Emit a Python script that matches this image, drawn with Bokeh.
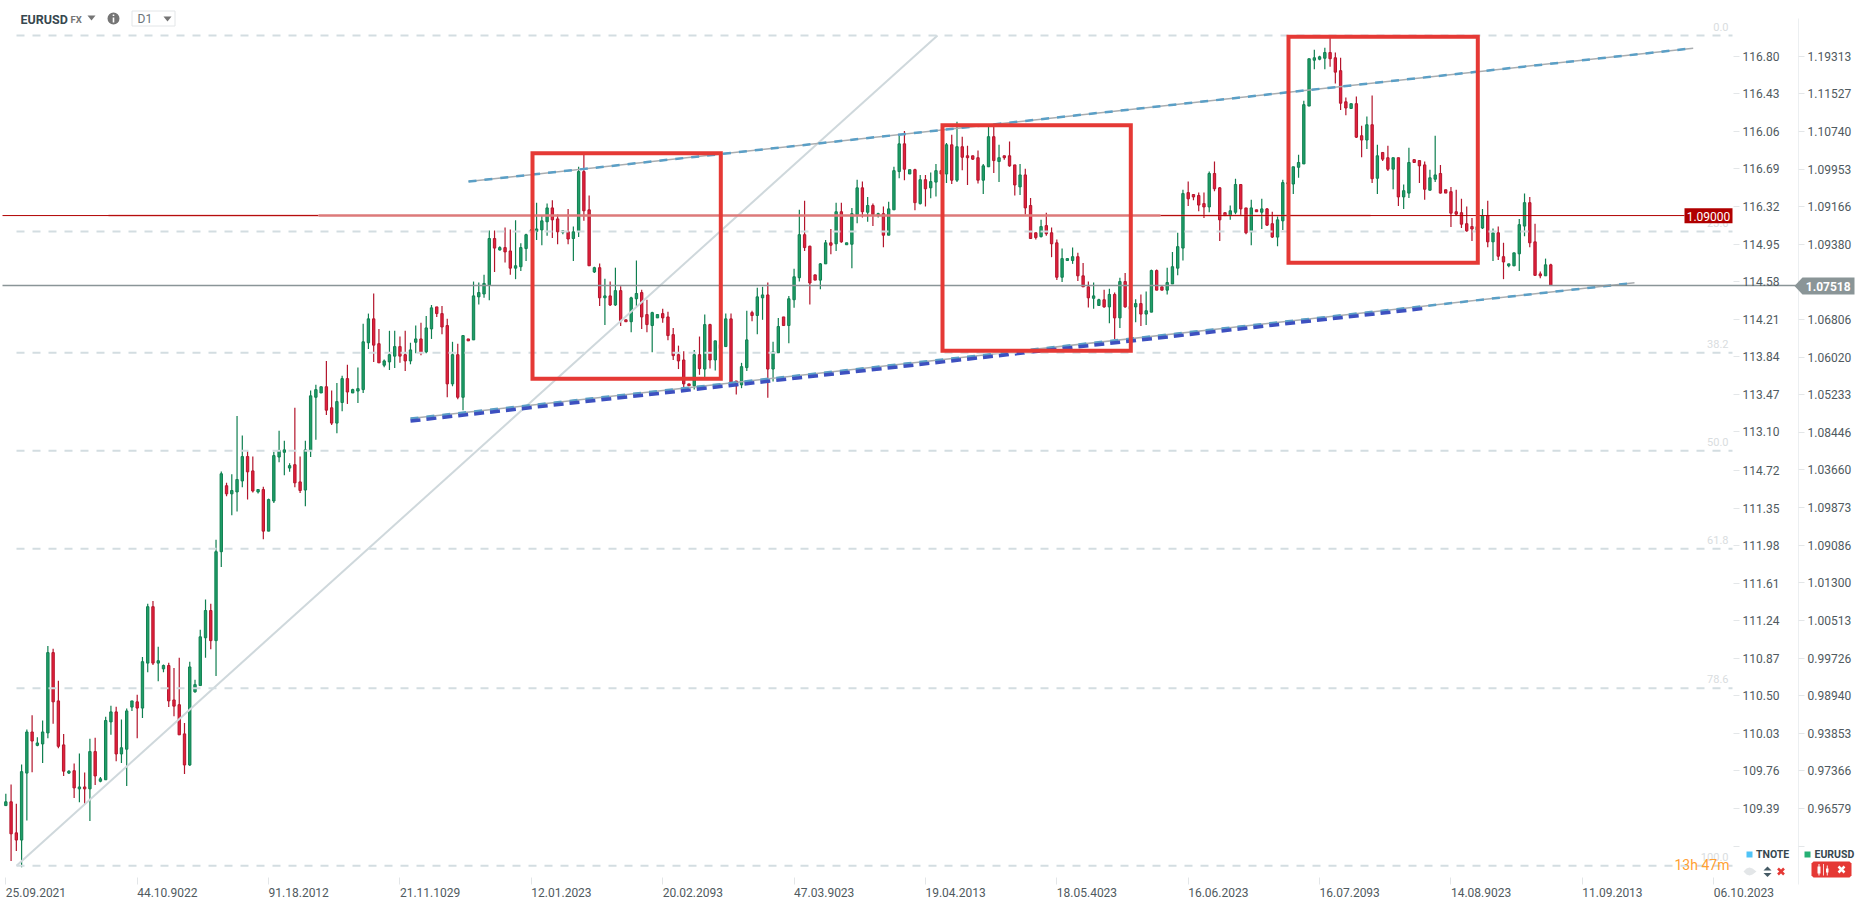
import numpy as np
from bokeh.embed import file_html
from bokeh.resources import INLINE
from bokeh.plotting import figure
from bokeh.models import Range1d, LinearAxis, FixedTicker, Label, PolyAnnotation

# EURUSD daily candles, prices in units of 0.0001
opens = [9664,9672,9607,9592,9732,9818,9790,9793,9816,9984,
9883,9791,9732,9737,9699,9703,9699,9777,9715,9718,
9839,9860,9772,9782,9870,9881,9868,9962,10080,9962,
9950,9957,9885,9875,9814,9749,9902,9915,10015,10072,
10009,10195,10333,10316,10320,10343,10394,10364,10320,10325,
10238,10301,10393,10403,10370,10377,10341,10324,10407,10518,
10527,10540,10496,10464,10507,10557,10527,10531,10534,10632,
10682,10630,10585,10592,10604,10624,10607,10594,10633,10640,
10613,10661,10707,10693,10668,10546,10607,10518,10640,10638,
10728,10734,10753,10850,10826,10831,10824,10788,10791,10829,
10865,10865,10868,10885,10914,10891,10863,10864,10850,10864,
10990,10910,10780,10789,10726,10730,10711,10741,10680,10676,
10724,10737,10691,10668,10684,10693,10686,10649,10607,10596,
10546,10542,10607,10577,10670,10596,10620,10624,10682,10552,
10544,10580,10695,10689,10726,10732,10577,10611,10686,10668,
10722,10768,10858,10834,10774,10763,10797,10841,10839,10906,
10837,10838,10900,10956,10905,10919,10898,10902,10857,10910,
10990,11048,10985,10994,10923,10973,10956,10968,10992,10985,
11046,10972,11042,11023,11023,11019,10972,11000,11063,11011,
11023,11023,11004,10958,10983,10919,10862,10854,10877,10862,
10841,10769,10804,10804,10812,10772,10749,10725,10710,10722,
10707,10733,10684,10760,10702,10707,10714,10692,10696,10783,
10749,10742,10755,10788,10830,10946,10942,10940,10923,10916,
10986,10956,10904,10898,10905,10963,10914,10864,10910,10905,
10912,10881,10853,10887,10964,10964,10999,11006,11127,11223,
11225,11227,11239,11228,11201,11136,11122,11132,11065,11056,
11088,10976,11030,11019,10995,11019,10937,10945,11015,11013,
11004,10951,10974,10986,10952,10948,10906,10904,10881,10875,
10867,10872,10898,10843,10862,10812,10793,10793,10818,10876,
10925,10843,10776,10772,10795]
closes = [9672,9605,9592,9735,9818,9799,9795,9818,9984,9881,
9788,9736,9736,9701,9703,9699,9777,9726,9720,9842,
9860,9772,9785,9862,9883,9868,9965,10080,9962,9967,
9957,9883,9872,9812,9749,9954,9917,10017,10072,10009,
10195,10358,10316,10323,10346,10394,10362,10322,10325,10238,
10304,10396,10407,10408,10375,10339,10323,10408,10521,10534,
10540,10491,10464,10509,10557,10529,10534,10536,10634,10682,
10627,10590,10594,10607,10624,10604,10594,10617,10640,10611,
10663,10705,10693,10665,10546,10607,10518,10647,10636,10730,
10737,10756,10850,10830,10831,10822,10788,10793,10831,10858,
10868,10870,10887,10914,10889,10864,10866,10849,10864,10990,
10908,10793,10789,10726,10730,10711,10741,10678,10676,10726,
10735,10686,10670,10695,10691,10684,10647,10605,10594,10546,
10542,10607,10578,10670,10596,10636,10628,10682,10546,10542,
10582,10638,10689,10728,10732,10577,10613,10666,10668,10724,
10770,10858,10831,10757,10763,10797,10841,10836,10906,10843,
10841,10902,10956,10906,10919,10900,10902,10857,10912,10992,
11048,10995,10994,10925,10973,10954,10969,10992,10985,11046,
10972,11042,11020,11019,11016,10972,11002,11063,11013,11019,
11019,11002,10962,10983,10914,10850,10852,10875,10860,10839,
10769,10808,10808,10812,10772,10749,10726,10730,10722,10707,
10733,10684,10760,10707,10708,10714,10692,10699,10783,10742,
10742,10758,10791,10833,10944,10933,10937,10920,10916,10986,
10954,10889,10898,10908,10963,10912,10862,10914,10906,10912,
10878,10853,10889,10967,10967,11000,11009,11130,11226,11228,
11230,11239,11226,11198,11133,11123,11132,11062,11056,11088,
10975,11023,11016,10995,11019,10937,10950,11009,11009,11002,
10953,10977,10983,10945,10945,10903,10901,10880,10866,10870,
10875,10898,10843,10862,10813,10801,10797,10820,10879,10925,
10841,10773,10772,10795,10752]
highs = [9689,9708,9668,9750,9823,9853,9807,9842,9998,9992,
9925,9814,9738,9752,9773,9733,9804,9806,9724,9850,
9873,9871,9844,9867,9883,9896,9975,10086,10092,9996,
9959,9963,9952,9973,9837,9965,9927,10032,10095,10086,
10220,10363,10339,10357,10479,10438,10405,10394,10325,10331,
10306,10404,10448,10427,10380,10496,10394,10427,10532,10544,
10540,10594,10532,10548,10563,10586,10536,10580,10672,10693,
10735,10661,10597,10657,10657,10645,10657,10632,10668,10674,
10688,10711,10707,10709,10682,10634,10630,10647,10640,10760,
10758,10774,10867,10867,10834,10873,10869,10888,10840,10860,
10870,10925,10898,10923,10930,10900,10867,10912,10875,11000,
11027,10940,10791,10798,10766,10760,10789,10750,10680,10728,
10804,10743,10722,10697,10691,10703,10697,10663,10626,10614,
10546,10617,10645,10691,10672,10636,10628,10693,10693,10552,
10590,10699,10699,10747,10749,10758,10634,10684,10686,10730,
10787,10910,10929,10835,10774,10799,10847,10870,10925,10925,
10841,10914,10973,10969,10937,10923,10904,10917,10927,11000,
11065,11075,10994,10996,10983,10983,10988,11006,10992,11050,
11067,11094,11063,11044,11023,11034,11006,11085,11085,11046,
11023,11053,11004,11006,10996,10935,10862,10889,10904,10873,
10848,10829,10808,10831,10820,10799,10760,10758,10724,10743,
10745,10737,10768,10778,10714,10723,10733,10739,10785,10785,
10749,10789,10822,10862,10952,10969,10942,10946,10946,10990,
11011,10958,10904,10919,10975,10963,10914,10931,10910,10933,
10914,10906,10896,10973,10969,11000,11025,11138,11226,11245,
11232,11249,11270,11239,11228,11145,11132,11147,11086,11105,
11149,11046,11030,11044,11019,11019,10963,11040,11015,11013,
11011,10994,11065,11004,10952,10958,10952,10933,10917,10893,
10875,10912,10929,10871,10875,10841,10797,10820,10891,10944,
10937,10881,10781,10808,10797]
lows = [9664,9548,9569,9535,9633,9734,9788,9753,9805,9835,
9784,9726,9730,9680,9671,9667,9632,9707,9713,9718,
9812,9757,9753,9705,9862,9805,9847,9943,9958,9924,
9943,9870,9851,9812,9730,9747,9900,9915,9973,9991,
9935,10163,10311,10271,10279,10330,10304,10319,10317,10221,
10238,10297,10382,10355,10362,10330,10318,10290,10393,10429,
10527,10481,10460,10443,10489,10504,10527,10506,10527,10619,
10592,10590,10581,10575,10579,10590,10573,10587,10610,10606,
10610,10640,10686,10650,10518,10541,10514,10491,10636,10638,
10712,10726,10721,10780,10825,10800,10774,10765,10782,10803,
10863,10847,10836,10856,10851,10838,10859,10838,10803,10853,
10887,10793,10778,10709,10669,10709,10709,10667,10676,10654,
10709,10661,10654,10612,10684,10674,10637,10596,10577,10538,
10542,10534,10565,10559,10578,10574,10620,10623,10546,10524,
10537,10573,10677,10650,10680,10517,10551,10611,10668,10631,
10705,10760,10824,10712,10763,10744,10797,10817,10824,10841,
10837,10788,10882,10894,10885,10876,10894,10832,10857,10910,
10976,10972,10985,10909,10921,10917,10934,10938,10985,10966,
10964,10968,10993,10962,11014,10965,10943,11000,10987,10968,
11015,11000,10940,10941,10900,10850,10848,10852,10856,10811,
10763,10759,10804,10797,10761,10749,10706,10703,10709,10705,
10673,10640,10663,10705,10698,10675,10667,10669,10696,10742,
10742,10733,10755,10773,10804,10918,10930,10907,10893,10905,
10949,10845,10898,10889,10901,10898,10859,10836,10906,10870,
10876,10851,10834,10868,10962,10943,10977,11006,11127,11204,
11223,11204,11209,11174,11119,11108,11122,11060,11020,11037,
10966,10943,11012,10991,10953,10918,10912,10935,11009,10966,
10931,10951,10968,10944,10945,10874,10898,10872,10864,10845,
10864,10870,10832,10803,10805,10765,10790,10792,10782,10855,
10832,10772,10767,10772,10751]

tnote_ticks = [116.80,116.43,116.06,115.69,115.32,114.95,114.58,114.21,113.84,113.47,113.10,
               112.72,112.35,111.98,111.61,111.24,110.87,110.50,110.13,109.76,109.39,109.02]
tnote_labels = ["116.80","116.43","116.06","116.69","116.32","114.95","114.58","114.21","113.84","113.47","113.10",
                "114.72","111.35","111.98","111.61","111.24","110.87","110.50","110.03","109.76","109.39",""]
price_ticks = [1.12313,1.11527,1.10740,1.09953,1.09166,1.08380,1.07593,1.06806,1.06020,1.05233,1.04446,
               1.03660,1.02873,1.02086,1.01300,1.00513,0.99726,0.98940,0.98153,0.97366,0.96579,0.95792]
price_labels = ["1.19313","1.11527","1.10740","1.09953","1.09166","1.09380","","1.06806","1.06020","1.05233","1.08446",
                "1.03660","1.09873","1.09086","1.01300","1.00513","0.99726","0.98940","0.93853","0.97366","0.96579",""]
date_ticks = [0,25,50,75,100,125,150,175,200,225,250,275,300,325]
date_labels = ["25.09.2021","44.10.9022","91.18.2012","21.11.1029","12.01.2023","20.02.2093","47.03.9023",
               "19.04.2013","18.05.4023","16.06.2023","16.07.2093","14.08.9023","11.09.2013","06.10.2023"]
fib_levels = [0.0,23.6,38.2,50.0,61.8,78.6,100.0]
fib_names = ["0.0","23.6","38.2","50.0","61.8","78.6","100.0"]
fib_top = 1.12744
fib_bottom = 0.95381
resistance = 1.0898
last_price = 1.07518

# screen helpers for decorations (pixels of the page -> chart scales)
def X(px): return (px - 5.33) / 5.255
def Y(py): return 1.13478 - 0.00020914 * py

W, H = 1866, 909
AX_BOTTOM = 884
p = figure(width=W, height=H, output_backend="svg", toolbar_location=None,
           x_range=Range1d(X(0), X(W)), y_range=Range1d(Y(H), Y(0)),
           x_axis_location=None, y_axis_location=None,
           min_border_left=0, min_border_top=0, min_border_right=0, min_border_bottom=0,
           background_fill_color="white", border_fill_color="white")
p.outline_line_color = None
p.grid.visible = False
p.extra_y_ranges = {"tnote": Range1d(117.349 - 0.0098498*H, 117.349)}

FONT = "Roboto"
TICKC = "#e3e6e8"
LABC = "#505a60"

ax1 = LinearAxis(y_range_name="tnote", ticker=FixedTicker(ticks=tnote_ticks), fixed_location=X(1733),
                 major_label_overrides=dict(zip(tnote_ticks, tnote_labels)))
ax1.axis_line_color = None
ax1.bounds = (117.349 - 0.0098498*AX_BOTTOM, 117.349)
ax2 = LinearAxis(ticker=FixedTicker(ticks=price_ticks), fixed_location=X(1798),
                 major_label_overrides=dict(zip(price_ticks, price_labels)))
ax2.axis_line_color = "#eceff1"
ax2.bounds = (Y(AX_BOTTOM), Y(18))
for a in (ax1, ax2):
    a.major_tick_line_color = TICKC
    a.major_tick_in = 0
    a.major_tick_out = 6
    a.minor_tick_line_color = None
    a.major_label_standoff = 3
    a.major_label_text_font = FONT
    a.major_label_text_font_size = "12px"
    a.major_label_text_color = LABC
p.add_layout(ax1, "right")
p.add_layout(ax2, "right")

xax = LinearAxis(ticker=FixedTicker(ticks=date_ticks), fixed_location=Y(AX_BOTTOM),
                 major_label_overrides={t: "" for t in date_ticks})
xax.axis_line_color = None
xax.major_tick_line_color = TICKC
xax.major_tick_in = 7
xax.major_tick_out = 0
xax.minor_tick_line_color = None
xax.major_label_standoff = 0
xax.major_label_text_font_size = "1px"
p.add_layout(xax, "below")

def label(px, py, text, size=12, color=LABC, align="left", style="normal", font=FONT):
    p.add_layout(Label(x=X(px), y=Y(py), text=text, text_font=font, text_font_size=f"{size}px",
                       text_color=color, text_align=align, text_baseline="middle", text_font_style=style))

def poly(pts, color, alpha=1.0, line=None):
    p.add_layout(PolyAnnotation(xs=[X(a) for a, b in pts], ys=[Y(b) for a, b in pts],
                                fill_color=color, fill_alpha=alpha, line_color=line))

def cross(cx, cy, r, color, t=0.9):
    poly([(cx-r-t, cy-r+t), (cx-r+t, cy-r-t), (cx+r+t, cy+r-t), (cx+r-t, cy+r+t)], color)
    poly([(cx+r-t, cy-r-t), (cx+r+t, cy-r+t), (cx-r+t, cy+r+t), (cx-r-t, cy+r-t)], color)

# candles
idx = np.arange(len(opens))
o, c = np.array(opens)/1e4, np.array(closes)/1e4
h, l = np.array(highs)/1e4, np.array(lows)/1e4
up = c >= o
edge = ["#0f7f50" if u else "#b3152c" for u in up]
fill = ["#1f9e68" if u else "#e3203c" for u in up]
p.segment(idx, l, idx, h, line_color=edge, line_width=1.2)
p.vbar(idx, width=0.45, bottom=np.minimum(o, c), top=np.maximum(o, c),
       fill_color=fill, line_color=edge, line_width=1)

# diagonal and trend lines
p.line([X(16), X(937)], [fib_bottom, Y(35)], line_color="#cfd8dc", line_width=2)
p.line([X(410), X(1634)], [Y(418), Y(282.3)], line_color="#a9adb0", line_width=1.5)
p.line([X(410), X(1634)], [Y(418), Y(282.3)], line_color="#5a9fc6", line_width=2.5, line_dash="8 8")
p.line([X(468), X(1692.7)], [Y(181), Y(47.7)], line_color="#a9adb0", line_width=1.5)
p.line([X(468), X(1692.7)], [Y(181), Y(47.7)], line_color="#5a9fc6", line_width=2.5, line_dash="8 8")
p.line([X(410), X(1423)], [Y(420.5), Y(308)], line_color="#3d50c0", line_width=3.5, line_dash="10 6")

# fibonacci levels
for lev, name in zip(fib_levels, fib_names):
    y = fib_top - (fib_top - fib_bottom) * lev / 100
    p.line([X(16), X(1732)], [y, y], line_color="#d3dde1", line_width=2, line_dash="8 8")
    p.add_layout(Label(x=X(1728), y=y, y_offset=9, text=name, text_font=FONT, text_font_size="11px",
                       text_color="#d9dde0", text_align="right", text_baseline="middle"))

# horizontal price lines
p.line([X(108), X(318)], [resistance, resistance], line_color="#e57373", line_alpha=0.25, line_width=3)
p.line([X(1160), X(1370)], [resistance, resistance], line_color="#e57373", line_alpha=0.25, line_width=3)
p.line([X(2), X(318)], [resistance, resistance], line_color="#b00000", line_width=1)
p.line([X(318), X(1160)], [resistance, resistance], line_color="#dd7a7a", line_width=2.5)
p.line([X(1160), X(1684)], [resistance, resistance], line_color="#b00000", line_width=1)
p.line([X(2), X(1796)], [last_price, last_price], line_color="#8a9597", line_width=1.5)

# red boxes
rx0 = [X(532), X(942), X(1288)]
rx1 = [X(720.3), X(1130.3), X(1477.3)]
ry0 = [Y(378.3), Y(350.3), Y(262.3)]
ry1 = [Y(152.7), Y(124.7), Y(36.3)]
p.quad(left=rx0, right=rx1, bottom=ry0, top=ry1, fill_color=None, line_color="#e53935", line_width=4,
       line_join="miter")

# price tags
poly([(1684, 207.7), (1732, 207.7), (1732, 222.7), (1684, 222.7)], "#b00000")
label(1708, 215.5, "1.09000", color="white", align="center")
poly([(1794, 285.5), (1802, 277), (1854, 277), (1854, 294), (1802, 294)], "#8a9597")
label(1827.7, 286, "1.07518", color="white", align="center", style="bold")

# date labels
for t, s in zip(date_ticks, date_labels):
    p.add_layout(Label(x=t, y=Y(892), text=s, text_font=FONT, text_font_size="12px", text_color=LABC,
                       text_align="left", text_baseline="middle"))

# header
label(20, 18.5, "EURUSD", size=12.5, color="#37474f", style="bold")
label(70, 19, "FX", size=9.5, color="#757575", style="bold")
poly([(87, 15), (95, 15), (91, 20)], "#757575")
p.scatter([X(113)], [Y(18)], size=12, fill_color="#757575", line_color=None)
poly([(112.2, 17), (113.8, 17), (113.8, 22), (112.2, 22)], "white")
poly([(112.2, 14), (113.8, 14), (113.8, 15.6), (112.2, 15.6)], "white")
p.quad(left=[X(131.5)], right=[X(174.5)], bottom=[Y(25.5)], top=[Y(10.5)], fill_color="white",
       line_color="#e3e6e8", line_width=1)
label(137, 18.5, "D1", size=12, color="#6b757a")
poly([(163, 16), (171, 16), (167, 21)], "#757575")

# bottom-right legend and timer
label(1674, 864, "13h 47m", size=14, color="#ffa033")
poly([(1746, 851), (1752, 851), (1752, 857), (1746, 857)], "#4fc3f7")
label(1755.5, 853.5, "TNOTE", size=10.5, color="#37474f", style="bold")
poly([(1804, 851), (1810, 851), (1810, 857), (1804, 857)], "#26b074")
label(1814, 853.5, "EURUSD", size=10.5, color="#37474f", style="bold")
poly([(1743, 871), (1746, 868), (1749, 867), (1752, 868), (1756, 871), (1752, 874), (1749, 875), (1746, 874)], "#e3e6e8")
poly([(1763, 870), (1767, 866), (1771, 870)], "#455a64")
poly([(1763, 872.5), (1771, 872.5), (1767, 876.5)], "#455a64")
cross(1780.5, 871, 3, "#e53935")
poly([(1813, 861), (1849, 861), (1851, 863), (1851, 875), (1849, 877), (1813, 877), (1811, 875), (1811, 863)], "#e53935")
poly([(1817, 866), (1820, 866), (1820, 873), (1817, 873)], "white")
poly([(1818, 863.5), (1819, 863.5), (1819, 875), (1818, 875)], "white")
poly([(1822.6, 863.5), (1823.4, 863.5), (1823.4, 875), (1822.6, 875)], "white")
poly([(1825.5, 868), (1828, 868), (1828, 872), (1825.5, 872)], "white")
poly([(1826.3, 865), (1827.2, 865), (1827.2, 875), (1826.3, 875)], "white")
cross(1841, 869, 3, "white")

open("out.html", "w").write(file_html(p, INLINE))
